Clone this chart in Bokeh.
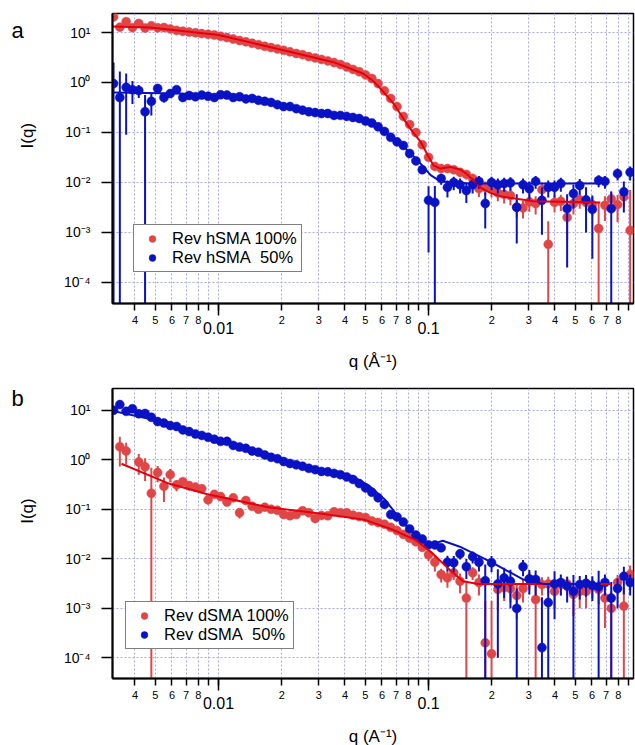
import numpy as np
from bokeh.plotting import figure
from bokeh.models import FixedTicker, LogAxis, Range1d, Legend, LegendItem
from bokeh.layouts import column, row
from bokeh.embed import file_html
from bokeh.resources import INLINE
from bokeh.core.properties import value

nan = float("nan")
FONT = "Liberation Sans"

# ---------------- data ----------------
q = [0.003162, 0.003388, 0.003631, 0.003890, 0.004169, 0.004467, 0.004786, 0.005129, 0.005495, 0.005888,
     0.006310, 0.006761, 0.007244, 0.007762, 0.008318, 0.008913, 0.009550, 0.010233, 0.010965, 0.011749,
     0.012589, 0.013490, 0.014454, 0.015488, 0.016596, 0.017783, 0.019055, 0.020417, 0.021878, 0.023442,
     0.025119, 0.026915, 0.028840, 0.030903, 0.033113, 0.035481, 0.038019, 0.040738, 0.043652, 0.046774,
     0.050119, 0.053703, 0.057544, 0.061660, 0.066069, 0.070795, 0.075858, 0.081283, 0.087096, 0.093325,
     0.1, 0.10715, 0.11482, 0.12303, 0.13183, 0.14125, 0.15136, 0.16218, 0.17378, 0.18621,
     0.19953, 0.21380, 0.22909, 0.24547, 0.26303, 0.28184, 0.30200, 0.32359, 0.34674, 0.37154,
     0.39811, 0.42658, 0.45709, 0.48978, 0.52481, 0.56234, 0.60256, 0.64565, 0.69183, 0.74131,
     0.79433, 0.85114, 0.91201]

# panel a : Rev hSMA 100%
hsma100_I = [20.5, 12.8, 16.5, 12.5, 15.2, 12.3, 13.6, 12.4, 12.6, 11.8,
             11.0, 10.6, 10.2, 9.9, 9.5, 9.2, 8.9, 8.4, 7.9, 7.4,
             6.9, 6.5, 6.1, 5.7, 5.3, 5.0, 4.7, 4.4, 4.1, 3.8,
             3.6, 3.3, 3.1, 2.9, 2.7, 2.5, 2.3, 2.05, 1.83, 1.64,
             1.42, 1.2, 0.95, 0.68, 0.48, 0.33, 0.21, 0.145, 0.1, 0.057,
             0.032, 0.021, 0.019, 0.019, 0.018, 0.016, 0.0145, 0.012, 0.0076, 0.0080,
             0.0075, 0.0062, 0.0058, 0.0055, 0.0032, 0.0031, 0.0041, 0.0038, 0.0072, 0.00058,
             0.0040, 0.0042, 0.0020, 0.0038, 0.0045, 0.0040, 0.0036, 0.0012, 0.0035, 0.0047,
             0.0036, 0.0052, 0.0011]
hsma100_err = [0] * 51 + [0.003, 0.003, 0.003, 0.003, 0.003, 0.003, 0.003,
                          0.0025, 0.0025, 0.0025, 0.002, 0.002, 0.002, 0.0012, 0.0012, 0.0015, 0.0015,
                          0.002, 0.0011, 0.0015, 0.0015, 0.0013, 0.0015, 0.0015, 0.0015, 0.0015, 0.0028,
                          0.0018, 0.002, 0.002, 0.002, 0.006]

# panel a : Rev hSMA 50%
hsma50_I = [0.95, 0.5, 0.8, 0.72, 0.69, 0.26, 0.42, 0.76, 0.5, 0.6, 0.72, 0.5,
            0.55, 0.52, 0.56, 0.53, 0.5, 0.57, 0.56, 0.5, 0.52, 0.47,
            0.48, 0.44, 0.42, 0.40, 0.36, 0.33, 0.33, 0.30, 0.28, 0.26,
            0.25, 0.24, 0.24, 0.22, 0.22, 0.21, 0.2, 0.19, 0.17, 0.155,
            0.13, 0.105, 0.08, 0.065, 0.055, 0.038, 0.027, 0.018,
            0.0044, 0.004, 0.012, 0.008, 0.010, 0.009, 0.0069, 0.009, 0.0105, 0.0038,
            0.010, 0.009, 0.0095, 0.0098, 0.0032, 0.009, 0.0075, 0.0105, 0.0044, 0.008,
            0.008, 0.0095, 0.003, 0.006, 0.0087, 0.0045, 0.0029, 0.011, 0.0105, 0.003,
            0.015, 0.0065, 0.016]
hsma50_err = ([1.55, 1.16, 0.71, 0.35, 0.2, 0.3, 0.2, 0.1, 0.1, 0.06, 0.05, 0.04]
              + [0.03] * 9 + [0] * 29
              + [0.004, 0.0045, 0.003, 0.003, 0.003, 0.003, 0.003, 0.003, 0.003, 0.0026,
                 0.003, 0.003, 0.003, 0.003, 0.0026, 0.003, 0.003, 0.003, 0.0035, 0.003,
                 0.003, 0.003, 0.0028, 0.003, 0.003, 0.0035, 0.0026, 0.003, 0.003, 0.0035,
                 0.004, 0.004, 0.005])

# panel b : Rev dSMA 100%
dsma100_I = [nan, 1.83, 1.5, nan, 0.9, 0.72, 0.21, 0.55, 0.29, 0.5,
             0.31, 0.36, 0.3, 0.28, 0.26, 0.155, 0.2, 0.18, 0.14, 0.17,
             0.085, 0.15, 0.115, 0.1, 0.11, 0.1, 0.095, 0.078, 0.074, 0.078,
             0.093, 0.085, 0.065, 0.075,
             0.074, 0.089, 0.085, 0.085, 0.076, 0.071, 0.068, 0.058, 0.054, 0.05,
             0.043, 0.037, 0.031, 0.026, 0.022, 0.017, 0.012,
             0.0085, 0.0048, 0.0041, 0.0052, 0.0035, 0.0016, 0.0052, 0.0033, 0.0002, 0.00012,
             0.0024, 0.0026, 0.0025, 0.0018, 0.0025, 0.0039, 0.0015, 0.003, 0.0031, 0.0022,
             0.003, 0.0031, 0.0019, 0.0022, 0.0022, 0.0028, 0.0024, 0.0016, 0.00099, 0.0033,
             0.0011, 0.0048]
dsma100_err = [0, 1.1, 0.7, 0, 0.4, 0.35, 0.48, 0.2, 0.15, 0.15,
               0.08, 0.07, 0.06, 0.05, 0.04, 0.03, 0.03, 0.03, 0.025, 0.025,
               0.02, 0.02, 0.015, 0.015, 0.015, 0.012, 0.012, 0.01, 0.01, 0.01,
               0.01, 0.01, 0.008, 0.008,
               0.008, 0.008, 0.008, 0.006, 0.006, 0.006, 0.006, 0.005, 0.005, 0.005,
               0.004, 0.004, 0.004, 0.003, 0.003, 0.003, 0.003,
               0.003, 0.0015, 0.0015, 0.0015, 0.0015, 0.002, 0.0015, 0.0015, 0.0012, 0.0013,
               0.0015, 0.0012, 0.0012, 0.0012, 0.0012, 0.0015, 0.0017, 0.0012, 0.0012, 0.0012,
               0.0012, 0.0012, 0.0012, 0.0012, 0.0012, 0.0012, 0.0012, 0.0012, 0.0012, 0.0014,
               0.0015, 0.0025]

# panel b : Rev dSMA 50%
dsma50_I = [10.0, 13.0, 9.5, 10.7, 8.5, 8.6, 7.2, 5.9, 5.5, 4.9,
            4.7, 4.0, 3.7, 3.3, 3.1, 2.85, 2.6, 2.35, 2.35, 1.95,
            1.8, 1.7, 1.5, 1.42, 1.25, 1.12, 1.05, 0.92, 0.84, 0.79,
            0.74, 0.67, 0.63, 0.58,
            0.57, 0.53, 0.5, 0.45, 0.4, 0.33, 0.27, 0.22, 0.17, 0.125,
            0.078, 0.07, 0.055, 0.04, 0.03, 0.025, 0.019,
            0.019, 0.0166, 0.0085, 0.0083, 0.0126, 0.0069, 0.011, 0.0085, 0.0036, 0.0083,
            0.0031, 0.0041, 0.0035, 0.00099, 0.0069, 0.0039, 0.0038, 0.00016, 0.0013, 0.0031,
            0.0033, 0.0028, 0.0022, 0.003, 0.0032, 0.0029, 0.0027, 0.0033, 0.0016, 0.0025,
            0.0044, 0.0033]
dsma50_err = [0] * 51 + [0.002, 0.002, 0.003, 0.003, 0.003, 0.003, 0.003, 0.003, 0.004, 0.003,
                         0.003, 0.0025, 0.0025, 0.0015, 0.0025, 0.002, 0.002, 0.0015, 0.0016, 0.0025,
                         0.0015, 0.0015, 0.0025, 0.0015, 0.0015, 0.0015, 0.003, 0.0015, 0.0018, 0.0015,
                         0.0025, 0.0015]

# model fits
hsma100_fit_q = [0.00313, 0.00474, 0.01, 0.0204, 0.0353, 0.049, 0.0548, 0.061, 0.0681, 0.0759,
                 0.0837, 0.0915, 0.0989, 0.1056, 0.1138, 0.127, 0.142, 0.153, 0.177, 0.197,
                 0.22, 0.316, 0.658]
hsma100_fit_I = [13.2, 12.6, 8.9, 4.4, 2.55, 1.5, 1.05, 0.65, 0.38, 0.19,
                 0.105, 0.066, 0.036, 0.022, 0.019, 0.0205, 0.018, 0.0145, 0.0079, 0.0062,
                 0.0053, 0.0042, 0.004]
hsma50_fit_q = [0.00313, 0.00659, 0.01, 0.0142, 0.0204, 0.0296, 0.0425, 0.0512, 0.061, 0.0735,
                0.0886, 0.1023, 0.1138, 0.158, 0.658]
hsma50_fit_I = [0.63, 0.6, 0.52, 0.46, 0.33, 0.245, 0.2, 0.155, 0.105, 0.06,
                0.028, 0.014, 0.0105, 0.0095, 0.0095]
dsma100_fit_q = [0.00345, 0.00569, 0.00885, 0.0172, 0.031, 0.0498, 0.0671, 0.0866, 0.104, 0.126,
                 0.146, 0.172, 0.739]
dsma100_fit_I = [0.83, 0.34, 0.2, 0.11, 0.081, 0.061, 0.039, 0.024, 0.013, 0.006,
                 0.0035, 0.0031, 0.0031]
dsma50_fit_q = [0.00306, 0.00569, 0.01, 0.0172, 0.0248, 0.0431, 0.052, 0.0621, 0.071, 0.0809,
                0.0903, 0.101, 0.117, 0.141, 0.2, 0.283, 0.354, 0.66]
dsma50_fit_I = [9.9, 5.6, 2.4, 1.2, 0.77, 0.47, 0.3, 0.155, 0.075, 0.039,
                0.026, 0.019, 0.023, 0.0175, 0.0084, 0.0038, 0.0031, 0.0031]

# ticks
x_ticks = [0.004, 0.005, 0.006, 0.007, 0.008, 0.009, 0.01,
           0.02, 0.03, 0.04, 0.05, 0.06, 0.07, 0.08, 0.09, 0.1,
           0.2, 0.3, 0.4, 0.5, 0.6, 0.7, 0.8, 0.9]
x_tick_labels = ["4", "5", "6", "7", "8", "", "",
                 "2", "3", "4", "5", "6", "7", "8", "", "",
                 "2", "3", "4", "5", "6", "7", "8", ""]
x_decades = [0.01, 0.1]
x_decade_labels = ["0.01", "0.1"]
y_ticks = [1e-4, 1e-3, 1e-2, 1e-1, 1.0, 10.0]
y_tick_labels = ["10\u207b\u2074", "10\u207b\u00b3", "10\u207b\u00b2", "10\u207b\u00b9", "10\u2070", "10\u00b9"]

RED_PT = "#E04646"
RED_LN = "#E6000E"
BLUE = "#0A12C4"

X_START, X_END = 0.003126, 0.9462
SIDE_W = 56


def make_side(height, letter, letter_from_top, ylabel_from_top):
    """Narrow strip holding the panel letter and the y-axis title."""
    s = figure(width=SIDE_W, height=height, x_range=Range1d(0, SIDE_W), y_range=Range1d(0, height),
               min_border=0, output_backend="svg", toolbar_location=None,
               x_axis_location=None, y_axis_location=None)
    s.grid.visible = False
    s.outline_line_color = None
    s.background_fill_color = "white"
    s.border_fill_color = "white"
    s.text(x=[17], y=[height - letter_from_top], text=[letter], text_font=value(FONT),
           text_font_size="22px", text_align="center", text_baseline="middle", text_color="black")
    s.text(x=[27], y=[height - ylabel_from_top], text=["I(q)"], angle=np.pi / 2, text_font=value(FONT),
           text_font_size="17px", text_align="center", text_baseline="middle", text_color="black")
    return s


def make_panel(y_lo, y_hi, top, bottom, xlabel):
    p = figure(x_axis_type="log", y_axis_type="log",
               x_range=Range1d(X_START, X_END), y_range=Range1d(y_lo, y_hi),
               frame_width=521, frame_height=290,
               min_border_left=112 - SIDE_W, min_border_right=2,
               min_border_top=top, min_border_bottom=bottom,
               output_backend="svg", toolbar_location=None)
    p.background_fill_color = "white"
    p.border_fill_color = "white"
    p.outline_line_color = "black"
    p.outline_line_width = 1.5

    # grid
    p.xgrid.ticker = FixedTicker(ticks=x_ticks)
    p.ygrid.ticker = FixedTicker(ticks=y_ticks)
    for g in (p.xgrid[0], p.ygrid[0]):
        g.grid_line_color = "#A8A8F5"
        g.grid_line_dash = "2 2"
        g.grid_line_width = 1

    # x axis (small numbers)
    ax = p.xaxis[0]
    ax.ticker = FixedTicker(ticks=x_ticks, minor_ticks=x_decades)
    ax.major_label_overrides = dict(zip(x_ticks, x_tick_labels))
    ax.major_tick_in = 0
    ax.major_tick_out = 7
    ax.minor_tick_in = 0
    ax.minor_tick_out = 12
    ax.major_tick_line_width = 1.5
    ax.minor_tick_line_width = 1.5
    ax.axis_line_width = 2
    ax.major_label_standoff = 0
    ax.major_label_text_font = FONT
    ax.major_label_text_font_size = "11px"
    ax.major_label_text_color = "black"

    # x axis (decade numbers + title)
    ax2 = LogAxis(ticker=FixedTicker(ticks=x_decades, minor_ticks=[]),
                  major_label_overrides=dict(zip(x_decades, x_decade_labels)))
    ax2.axis_line_color = None
    ax2.major_tick_line_color = None
    ax2.minor_tick_line_color = None
    ax2.major_tick_out = 0
    ax2.major_tick_in = 0
    ax2.major_label_standoff = -5
    ax2.major_label_text_font = FONT
    ax2.major_label_text_font_size = "16px"
    ax2.major_label_text_color = "black"
    ax2.axis_label = xlabel
    ax2.axis_label_text_font = FONT
    ax2.axis_label_text_font_size = "17px"
    ax2.axis_label_text_font_style = "normal"
    ax2.axis_label_text_color = "black"
    ax2.axis_label_standoff = 15
    p.add_layout(ax2, "below")

    # y axis
    ay = p.yaxis[0]
    ay.ticker = FixedTicker(ticks=y_ticks, minor_ticks=[])
    ay.major_label_overrides = dict(zip(y_ticks, y_tick_labels))
    ay.major_tick_in = 0
    ay.major_tick_out = 11
    ay.major_tick_line_width = 1.5
    ay.minor_tick_line_color = None
    ay.axis_line_width = 2
    ay.major_label_standoff = 11
    ay.major_label_text_font = FONT
    ay.major_label_text_font_size = "14px"
    ay.major_label_text_color = "black"
    return p


def add_series(p, I, err, color):
    qa = np.array(q, dtype=float)
    Ia = np.array(I, dtype=float)
    ea = np.array(err, dtype=float)
    ok = np.isfinite(Ia) & (ea > 0)
    lo = np.where(Ia - ea > 0, Ia - ea, 1e-8)
    hi = Ia + ea
    p.segment(x0=qa[ok], y0=lo[ok], x1=qa[ok], y1=hi[ok], line_color=color, line_width=2)
    fin = np.isfinite(Ia)
    return p.scatter(qa[fin], Ia[fin], size=9, marker="circle", fill_color=color, line_color=color, line_width=0.5)


def add_legend(p, items, loc):
    leg = Legend(items=items, location=loc)
    leg.border_line_color = "black"
    leg.border_line_width = 1.5
    leg.background_fill_color = "white"
    leg.background_fill_alpha = 1.0
    leg.label_text_font = FONT
    leg.label_text_font_size = "16.5px"
    leg.label_text_color = "black"
    leg.padding = 4
    leg.spacing = 0
    leg.margin = 0
    leg.glyph_width = 28
    leg.glyph_height = 17
    leg.label_height = 17
    leg.label_standoff = 6
    p.add_layout(leg)


# ---------------- panel a ----------------
pa = make_panel(3.80e-5, 23.99, 13, 72, "q (\u00c5\u207b\u00b9)")
ra = add_series(pa, hsma100_I, hsma100_err, RED_PT)
ba = add_series(pa, hsma50_I, hsma50_err, BLUE)
pa.line(hsma100_fit_q, hsma100_fit_I, line_color=RED_LN, line_width=2)
pa.line(hsma50_fit_q, hsma50_fit_I, line_color=BLUE, line_width=2)
add_legend(pa, [LegendItem(label="Rev hSMA 100%", renderers=[ra]),
                LegendItem(label="Rev hSMA\u00a0 50%", renderers=[ba])], (21, 31))
sa = make_side(375, "a", 22, 158)

# ---------------- panel b ----------------
pb = make_panel(3.80e-5, 27.5, 13, 67, "q (A\u207b\u00b9)")
rb = add_series(pb, dsma100_I, dsma100_err, RED_PT)
bb = add_series(pb, dsma50_I, dsma50_err, BLUE)
pb.line(dsma100_fit_q, dsma100_fit_I, line_color=RED_LN, line_width=2)
pb.line(dsma50_fit_q, dsma50_fit_I, line_color=BLUE, line_width=2)
add_legend(pb, [LegendItem(label="Rev dSMA 100%", renderers=[rb]),
                LegendItem(label="Rev dSMA\u00a0 50%", renderers=[bb])], (13, 29))
sb = make_side(370, "b", 13, 158)

layout = column(row(sa, pa, spacing=0), row(sb, pb, spacing=0), spacing=0)
open("out.html", "w").write(file_html(layout, INLINE))
